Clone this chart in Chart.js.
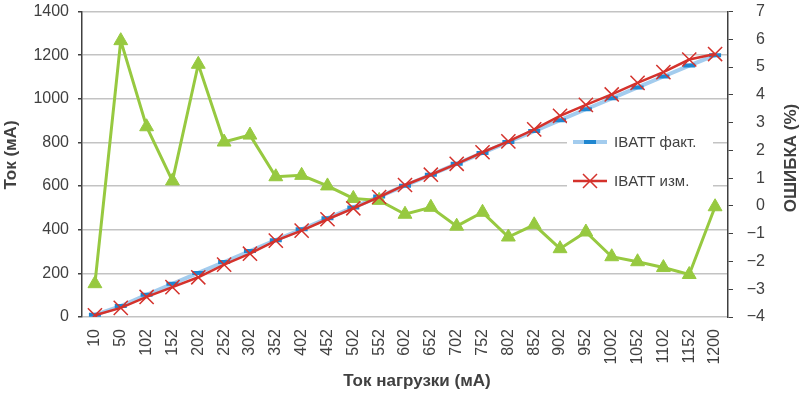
<!DOCTYPE html>
<html><head><meta charset="utf-8">
<script src="https://cdn.jsdelivr.net/npm/chart.js@4.4.0/dist/chart.umd.min.js"></script>
<style>html,body{margin:0;padding:0;background:#fff}#wrap{width:800px;height:393px}</style>
</head><body><div id="wrap"><canvas id="c" width="800" height="393"></canvas></div>
<script>
const categories = ['10','50','102','152','202','252','302','352','402','452','502','552','602','652','702','752','802','852','902','952','1002','1052','1102','1152','1200'];
const actualCurrent = [10,50,102,152,202,252,302,352,402,452,502,552,602,652,702,752,802,852,902,952,1002,1052,1102,1152,1200];
const measuredCurrent = [8,42,92,137,182,240,290,350,396,448,498,550,605,652,702,755,805,860,922,972,1020,1073,1122,1180,1205];
const errorPercent = [-2.8,5.95,2.85,0.9,5.1,2.3,2.55,1.05,1.1,0.72,0.27,0.2,-0.3,-0.05,-0.73,-0.23,-1.12,-0.68,-1.54,-0.94,-1.83,-2.01,-2.22,-2.47,-0.03];
const leftTicks = [0,200,400,600,800,1000,1200,1400];
const rightTicks = [-4,-3,-2,-1,0,1,2,3,4,5,6,7];
const seriesActual = 'IBATT факт.';
const seriesMeasured = 'IBATT изм.';
const seriesError = 'ОШИБКА (%)';
const titleLeft = 'Ток (мА)';
const titleRight = 'ОШИБКА (%)';
const titleBottom = 'Ток нагрузки (мА)';

const FONT = '"Liberation Sans", Arial, Helvetica, sans-serif';
const TXT = '#404040';
const BLUE_LINE = '#A3CCEE';
const BLUE_MARK = '#1F86D0';
const RED = '#D4322C';
const GREEN = '#97C940';

const overlay = {
  id: 'overlay',
  afterDatasetsDraw(chart) {
    const ctx = chart.ctx;
    ctx.save();
    // legend
    ctx.fillStyle = '#ffffff';
    ctx.fillRect(567, 122, 146, 76);
    ctx.lineCap = 'butt';
    ctx.strokeStyle = BLUE_LINE; ctx.lineWidth = 4;
    ctx.beginPath(); ctx.moveTo(573, 142); ctx.lineTo(607, 142); ctx.stroke();
    ctx.strokeStyle = BLUE_MARK; ctx.lineWidth = 4;
    ctx.beginPath(); ctx.moveTo(584, 142); ctx.lineTo(596, 142); ctx.stroke();
    ctx.strokeStyle = RED; ctx.lineWidth = 2.5;
    ctx.beginPath(); ctx.moveTo(573, 181); ctx.lineTo(607, 181); ctx.stroke();
    ctx.lineWidth = 1.5;
    ctx.beginPath(); ctx.moveTo(583, 174); ctx.lineTo(597, 188); ctx.moveTo(597, 174); ctx.lineTo(583, 188); ctx.stroke();
    ctx.fillStyle = TXT;
    ctx.font = '15px ' + FONT;
    ctx.textAlign = 'left'; ctx.textBaseline = 'middle';
    ctx.fillText(seriesActual, 614, 143);
    ctx.fillText(seriesMeasured, 614, 182);
    // axis titles
    ctx.font = 'bold 17px ' + FONT;
    ctx.textAlign = 'center';
    ctx.save(); ctx.translate(11, 155); ctx.rotate(-Math.PI / 2); ctx.fillText(titleLeft, 0, 0); ctx.restore();
    ctx.save(); ctx.translate(791, 158); ctx.rotate(-Math.PI / 2); ctx.fillText(titleRight, 0, 0); ctx.restore();
    ctx.fillText(titleBottom, 417, 381);
    ctx.restore();
  }
};

function noPad(s) { s.paddingTop = 0; s.paddingBottom = 0; s.paddingLeft = 0; s.paddingRight = 0; }

new Chart(document.getElementById('c'), {
  type: 'line',
  data: {
    labels: categories,
    datasets: [
      {
        label: seriesMeasured, data: measuredCurrent, yAxisID: 'y', order: 1,
        borderColor: RED, borderWidth: 2.5, pointStyle: 'crossRot', pointRadius: 10,
        pointBorderColor: RED, pointBorderWidth: 1.5, pointBackgroundColor: RED, tension: 0
      },
      {
        label: seriesError, data: errorPercent, yAxisID: 'y2', order: 2,
        borderColor: GREEN, borderWidth: 3, pointStyle: 'triangle', pointRadius: 8,
        pointBackgroundColor: GREEN, pointBorderColor: GREEN, pointBorderWidth: 1, tension: 0
      },
      {
        label: seriesActual, data: actualCurrent, yAxisID: 'y', order: 3,
        borderColor: BLUE_LINE, borderWidth: 4, pointStyle: 'line', pointRadius: 6,
        pointBorderColor: BLUE_MARK, pointBorderWidth: 4, tension: 0
      }
    ]
  },
  options: {
    responsive: false, animation: false, devicePixelRatio: 1,
    layout: { padding: { top: 7, left: 0, right: 35, bottom: 0 } },
    plugins: { legend: { display: false }, tooltip: { enabled: false } },
    scales: {
      x: {
        type: 'category', offset: true,
        grid: { display: false, drawTicks: false },
        border: { display: false },
        ticks: { autoSkip: false, maxRotation: 90, minRotation: 90, padding: 12, color: TXT, font: { family: FONT, size: 16 } },
        afterFit(s) { s.height = 76; noPad(s); }
      },
      y: {
        position: 'left', min: 0, max: 1400,
        afterBuildTicks(s) { s.ticks = leftTicks.map(v => ({ value: v })); },
        ticks: { padding: 9, color: TXT, font: { family: FONT, size: 16 }, callback: v => String(v) },
        grid: { color: '#C3C3C3', lineWidth: 1.5, tickColor: TXT, tickLength: 4 },
        border: { color: TXT, width: 1.5 },
        afterFit(s) { s.width = 82; noPad(s); }
      },
      y2: {
        position: 'right', min: -4, max: 7,
        afterBuildTicks(s) { s.ticks = rightTicks.map(v => ({ value: v })); },
        ticks: { padding: 14, crossAlign: 'far', color: TXT, font: { family: FONT, size: 16 },
          callback: v => (v < 0 ? '\u2212' + Math.abs(v) : String(v)) },
        grid: { drawOnChartArea: false, tickColor: TXT, tickLength: 5 },
        border: { color: TXT, width: 1.5 },
        afterFit(s) { s.width = 37; noPad(s); }
      }
    }
  },
  plugins: [overlay]
});
</script>
</body></html>
